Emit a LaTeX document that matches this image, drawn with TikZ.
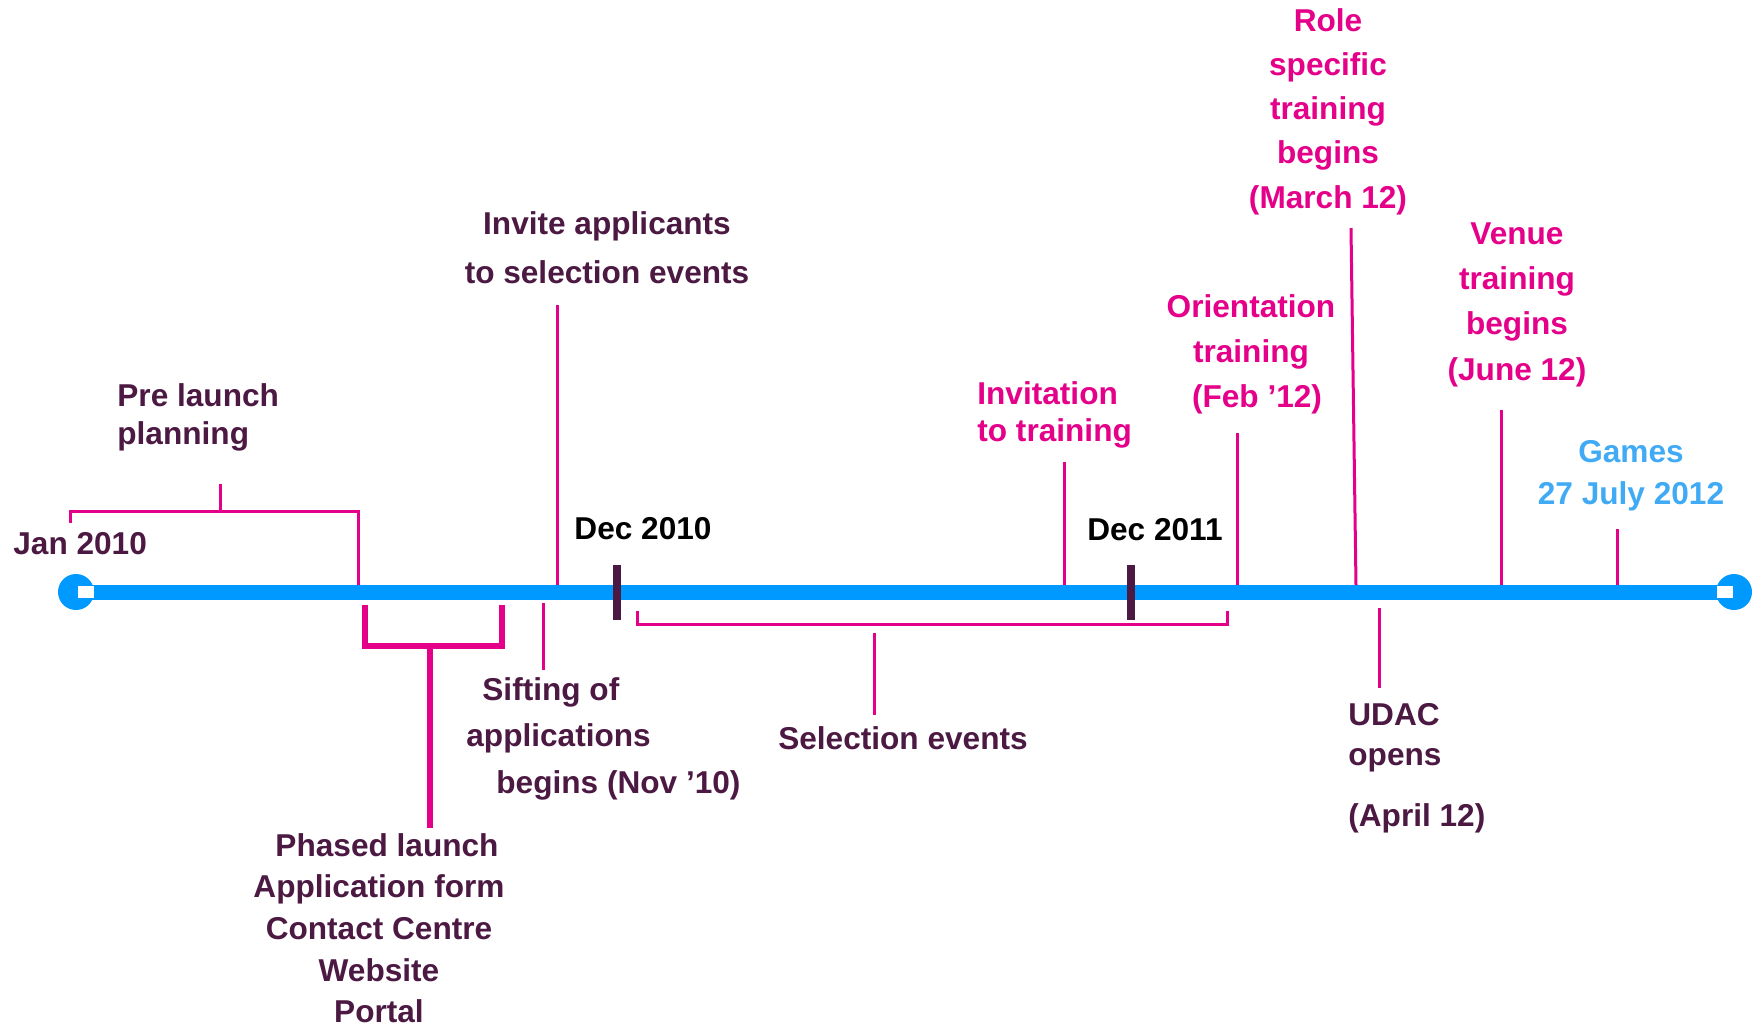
\documentclass[tikz,border=0pt]{standalone}
\usepackage{fontspec}
\setmainfont{Liberation Sans}
\usetikzlibrary{positioning}

\definecolor{darkplum}{RGB}{75,25,66}
\definecolor{evtpink}{RGB}{228,0,137}
\definecolor{tlblue}{RGB}{0,153,255}
\definecolor{gamesblue}{RGB}{64,170,245}

\tikzset{
  lbl/.style={font=\bfseries\fontsize{15.8}{#1}\selectfont, text=darkplum, align=center, inner sep=0pt},
  lbl/.default=21pt,
  pinklbl/.style={lbl=#1, text=evtpink},
  pinklbl/.default=22pt,
  datelbl/.style={lbl, text=black},
  marker/.style={draw=evtpink, line width=1.5pt},
  bracket/.style={draw=evtpink, line width=3pt},
  yeartick/.style={draw=darkplum, line width=4pt},
}

\begin{document}
\begin{tikzpicture}[x=0.5pt, y=-0.5pt]
\useasboundingbox (0,0) rectangle (1758,1030);

%% LABELS ABOVE THE LINE
\node[lbl=19pt, align=left, anchor=north west](pre_launch) at (117,383) {Pre launch\\planning};
\node[lbl, anchor=north west](jan_2010) at (13,532) {Jan 2010};
\node[lbl=24.5pt, anchor=north](invite) at (607,211) {Invite applicants\\to selection events};
\node[datelbl, anchor=north](dec_2010) at (643,517) {Dec 2010};
\node[datelbl, anchor=north](dec_2011) at (1155,518) {Dec 2011};

% training
\node[pinklbl=18.5pt, align=left, anchor=north west](invitation) at (977,381) {Invitation\\to training};
\node[pinklbl=22.5pt, anchor=north](orientation) at (1251,294) {Orientation\\training\\\hspace*{6pt}(Feb ’12)};
\node[pinklbl=22.1pt, anchor=north](role) at (1328,8) {Role\\specific\\training\\begins\\(March 12)};
\node[pinklbl=22.7pt, anchor=north](venue) at (1517,222) {Venue\\training\\begins\\(June 12)};
\node[lbl, text=gamesblue, anchor=north](games) at (1631,440) {Games\\27 July 2012};

%% LABELS BELOW THE LINE
\node[lbl=20.8pt, anchor=north](phased) at (379,833) {\hspace*{8pt}Phased launch\\Application form\\Contact Centre\\Website\\Portal};
\node[lbl=23.2pt, align=left, anchor=north west](sifting) at (466,677) {\hspace*{8pt}Sifting of\\applications\\\hspace*{15pt}begins (Nov ’10)};
\node[lbl, anchor=north](selection) at (903,726) {Selection events};
\node[lbl=20pt, align=left, anchor=north west](udac) at (1348,703) {UDAC\\opens\\[10.5pt](April 12)};

%% CONNECTORS
\draw[marker] (70,523) coordinate (pre_l) -- (70,511) -- (358,511) -- (358,585) coordinate (pre_r);
\draw[marker] (220,511) -- (220,484) coordinate (pre_mid);
\draw[bracket] (365,605) coordinate (phased_l) -- (365,646) -- (502,646) -- (502,605) coordinate (phased_r);
\draw[bracket] (430,646) coordinate (phased_top) -- (430,828) coordinate (phased_end);
\draw[marker] (543,603) coordinate (sift_bar) -- (543,670) coordinate (sift_end);
\draw[marker] (557,305) coordinate (invite_end) -- (557,585) coordinate (invite_bar);
\draw[marker] (637,611) coordinate (sel_l) -- (637,624) -- (1227,624) -- (1227,611) coordinate (sel_r);
\draw[marker] (874,633) coordinate (sel_mid) -- (874,715) coordinate (sel_end);
\draw[marker] (1064,462) coordinate (invitation_end) -- (1064,585) coordinate (invitation_bar);
\draw[marker] (1237,433) coordinate (orientation_end) -- (1237,585) coordinate (orientation_bar);
\draw[marker] (1351,228) coordinate (role_end) -- (1356,585) coordinate (role_bar);
\draw[marker] (1501,410) coordinate (venue_end) -- (1501,585) coordinate (venue_bar);
\draw[marker] (1617,529) coordinate (games_end) -- (1617,585) coordinate (games_bar);
\draw[marker] (1379,608) coordinate (udac_bar) -- (1379,688) coordinate (udac_end);

%% TIMELINE
\coordinate (tl_start) at (76,592);
\coordinate (tl_end) at (1734,592);
\draw[tlblue, line width=7.5pt] (tl_start) -- (tl_end);
\fill[tlblue] (tl_start) circle (9pt);
\fill[tlblue] (tl_end) circle (9pt);
\fill[white] (78,586) rectangle (94,598);
\fill[white] (1717,586) rectangle (1733,598);

\draw[yeartick] (617,565) -- (617,620);
\draw[yeartick] (1131,565) -- (1131,620);

\end{tikzpicture}
\end{document}
